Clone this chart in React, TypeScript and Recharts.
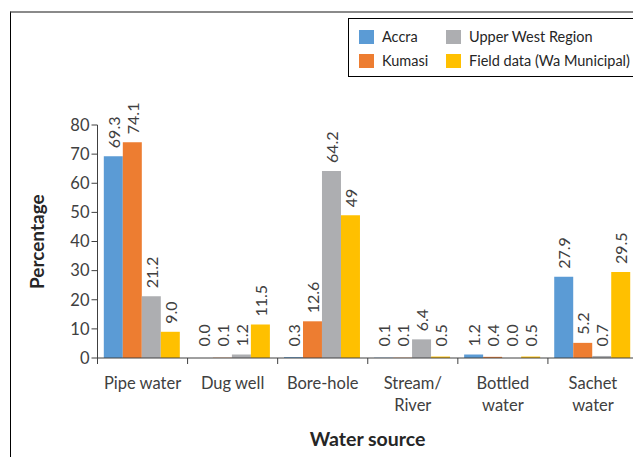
import React from 'react';
import { BarChart, Bar, XAxis, YAxis, LabelList, Label } from 'recharts';

const categories = ['Pipe water', 'Dug well', 'Bore-hole', 'Stream/\nRiver', 'Bottled\nwater', 'Sachet\nwater'];
const accra = [69.3, 0.0, 0.3, 0.1, 1.2, 27.9];
const kumasi = [74.1, 0.1, 12.6, 0.1, 0.4, 5.2];
const upperWest = [21.2, 1.2, 64.2, 6.4, 0.0, 0.7];
const fieldData = [9.0, 11.5, 49, 0.5, 0.5, 29.5];
const accraLabels = ['69.3', '0.0', '0.3', '0.1', '1.2', '27.9'];
const kumasiLabels = ['74.1', '0.1', '12.6', '0.1', '0.4', '5.2'];
const upperWestLabels = ['21.2', '1.2', '64.2', '6.4', '0.0', '0.7'];
const fieldDataLabels = ['9.0', '11.5', '49', '0.5', '0.5', '29.5'];
const yTicks = [0, 10, 20, 30, 40, 50, 60, 70, 80];

const seriesNames = ['Accra', 'Kumasi', 'Upper West Region', 'Field data (Wa Municipal)'];
const colors = ['#5B9BD5', '#ED7D31', '#ADAEB1', '#FFC000'];

const data = categories.map((c, i) => ({
  name: c,
  accra: accra[i],
  kumasi: kumasi[i],
  upperWest: upperWest[i],
  fieldData: fieldData[i],
  accraLabel: accraLabels[i],
  kumasiLabel: kumasiLabels[i],
  upperWestLabel: upperWestLabels[i],
  fieldDataLabel: fieldDataLabels[i],
}));

const FONT = 'Lato, "Open Sans", sans-serif';
const TEXT = '#404040';

const ValueLabel = (props: any) => {
  const { x, y, width, height, value } = props;
  const cx = x + width / 2;
  const bottom = y + height;
  const ty = Math.min(y - 8, bottom - 11.5);
  return (
    <text
      x={cx}
      y={ty}
      transform={`rotate(-90, ${cx}, ${ty})`}
      textAnchor="start"
      dominantBaseline="central"
      fontFamily={FONT}
      fontSize={16}
      fill={TEXT}
    >
      {value}
    </text>
  );
};

const CategoryTick = (props: any) => {
  const { x, y, payload, index, visibleTicksCount } = props;
  const half = payload && payload.offset ? payload.offset : 45;
  const lines = String(payload.value).split('\n');
  const isLast = index === (visibleTicksCount ?? categories.length) - 1;
  return (
    <g>
      <line x1={x - half} x2={x - half} y1={y} y2={y + 6} stroke="#404040" strokeWidth={1} />
      {isLast && <line x1={x + half} x2={x + half} y1={y} y2={y + 6} stroke="#404040" strokeWidth={1} />}
      {lines.map((l, i) => (
        <text
          key={i}
          x={x}
          y={y + 31 + i * 22}
          textAnchor="middle"
          fontFamily={FONT}
          fontSize={16.5}
          fill={TEXT}
        >
          {l}
        </text>
      ))}
    </g>
  );
};

const LegendBox = () => {
  const items = [
    { name: seriesNames[0], color: colors[0], left: 10, top: 11 },
    { name: seriesNames[2], color: colors[2], left: 97, top: 11 },
    { name: seriesNames[1], color: colors[1], left: 10, top: 35 },
    { name: seriesNames[3], color: colors[3], left: 97, top: 35 },
  ];
  return (
    <div
      style={{
        position: 'absolute',
        left: 340,
        top: 10,
        width: 293,
        height: 59,
        boxSizing: 'border-box',
        borderTop: '1px solid #000',
        borderLeft: '1px solid #000',
        borderBottom: '1px solid #000',
        background: '#fff',
        fontFamily: FONT,
        fontSize: 14.5,
        color: '#262626',
      }}
    >
      {items.map((it) => (
        <div key={it.name} style={{ position: 'absolute', left: it.left, top: it.top, display: 'flex', alignItems: 'center', whiteSpace: 'nowrap' }}>
          <span style={{ display: 'inline-block', width: 15, height: 14, background: it.color, marginRight: 8 }} />
          <span style={{ lineHeight: '14px' }}>{it.name}</span>
        </div>
      ))}
    </div>
  );
};

export default function App() {
  return (
    <div style={{ position: 'relative', width: 633, height: 449 }}>
      <div
        style={{
          position: 'absolute',
          left: 2,
          top: 3,
          width: 631,
          height: 446,
          boxSizing: 'border-box',
          borderTop: '2px solid #8a8a8a',
          borderLeft: '1px solid #000',
          pointerEvents: 'none',
        }}
      />
      <BarChart
        width={633}
        height={449}
        data={data}
        margin={{ top: 117, right: 3, left: 0, bottom: 39 }}
        barCategoryGap="7%"
        barGap={0}
      >
        <XAxis
          dataKey="name"
          height={60}
          axisLine={{ stroke: '#404040' }}
          tickLine={false}
          tickSize={0}
          tickMargin={0}
          interval={0}
          tick={<CategoryTick />}
        >
          <Label
            content={() => (
              <text x={359.6} y={437.5} textAnchor="middle" fontFamily={FONT} fontSize={19.5} fontWeight={700} fill="#262626">
                Water source
              </text>
            )}
          />
        </XAxis>
        <YAxis
          width={89.5}
          domain={[0, 80]}
          ticks={yTicks}
          interval={0}
          axisLine={{ stroke: '#404040' }}
          tickLine={{ stroke: '#404040' }}
          tickSize={6}
          tickMargin={2}
          tick={{ fontFamily: FONT, fontSize: 16.5, fill: TEXT }}
        >
          <Label
            content={() => (
              <text
                x={29}
                y={233.7}
                transform="rotate(-90, 29, 233.7)"
                textAnchor="middle"
                dominantBaseline="central"
                fontFamily={FONT}
                fontSize={19}
                fontWeight={700}
                fill="#262626"
              >
                Percentage
              </text>
            )}
          />
        </YAxis>
        <Bar dataKey="accra" name={seriesNames[0]} fill={colors[0]} minPointSize={0.01} isAnimationActive={false}>
          <LabelList dataKey="accraLabel" content={<ValueLabel />} />
        </Bar>
        <Bar dataKey="kumasi" name={seriesNames[1]} fill={colors[1]} minPointSize={0.01} isAnimationActive={false}>
          <LabelList dataKey="kumasiLabel" content={<ValueLabel />} />
        </Bar>
        <Bar dataKey="upperWest" name={seriesNames[2]} fill={colors[2]} minPointSize={0.01} isAnimationActive={false}>
          <LabelList dataKey="upperWestLabel" content={<ValueLabel />} />
        </Bar>
        <Bar dataKey="fieldData" name={seriesNames[3]} fill={colors[3]} minPointSize={0.01} isAnimationActive={false}>
          <LabelList dataKey="fieldDataLabel" content={<ValueLabel />} />
        </Bar>
      </BarChart>
      <LegendBox />
    </div>
  );
}
